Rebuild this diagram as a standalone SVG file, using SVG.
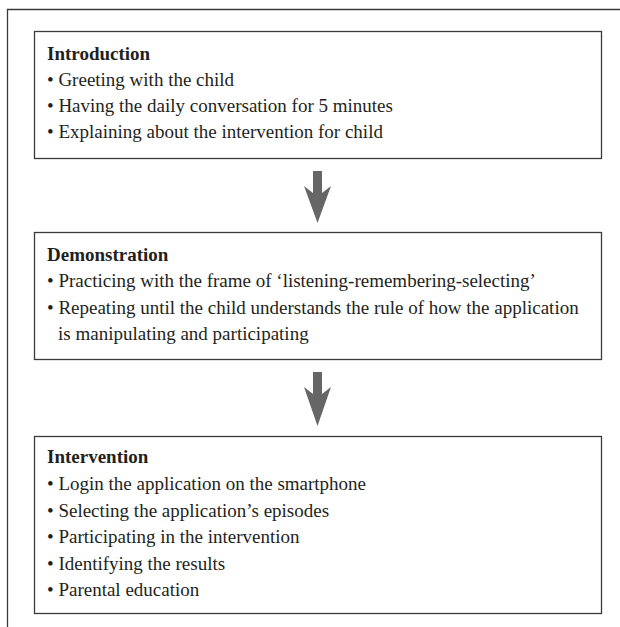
<svg xmlns="http://www.w3.org/2000/svg" width="620" height="627" viewBox="0 0 620 627">
<style>
.box{fill:#fff;stroke:#3a3a3a;stroke-width:1.3}
.t{font-family:"Liberation Serif","Times New Roman",serif;font-size:19px;fill:#231f20}
.h{font-weight:bold}
.arr{fill:#666}
</style>
<rect width="620" height="627" fill="#fff"/>
<path d="M7.5 627 V9.5 H620" fill="none" stroke="#3a3a3a" stroke-width="1.3"/>
<g id="introduction">
<rect class="box" x="34.5" y="31.5" width="567" height="127"/>
<text class="t h" x="47" y="60">Introduction</text>
<text class="t" x="47" y="86">• Greeting with the child</text>
<text class="t" x="47" y="112">• Having the daily conversation for 5 minutes</text>
<text class="t" x="47" y="138">• Explaining about the intervention for child</text>
</g>
<g id="demonstration">
<rect class="box" x="34.5" y="232.5" width="567" height="127"/>
<text class="t h" x="47" y="261">Demonstration</text>
<text class="t" x="47" y="287">• Practicing with the frame of ‘listening-remembering-selecting’</text>
<text class="t" x="47" y="314">• Repeating until the child understands the rule of how the application</text>
<text class="t" x="58" y="340">is manipulating and participating</text>
</g>
<g id="intervention">
<rect class="box" x="34.5" y="436.5" width="567" height="177"/>
<text class="t h" x="47" y="463">Intervention</text>
<text class="t" x="47" y="490">• Login the application on the smartphone</text>
<text class="t" x="47" y="517">• Selecting the application’s episodes</text>
<text class="t" x="47" y="543">• Participating in the intervention</text>
<text class="t" x="47" y="570">• Identifying the results</text>
<text class="t" x="47" y="596">• Parental education</text>
</g>
<g id="connectors">
<polygon class="arr" points="313,171 322,171 322,193 331,186 317.5,223 304,186 313,193"/>
<polygon class="arr" points="313,372 322,372 322,394 331,387 317.5,426 304,387 313,394"/>
</g>
</svg>
